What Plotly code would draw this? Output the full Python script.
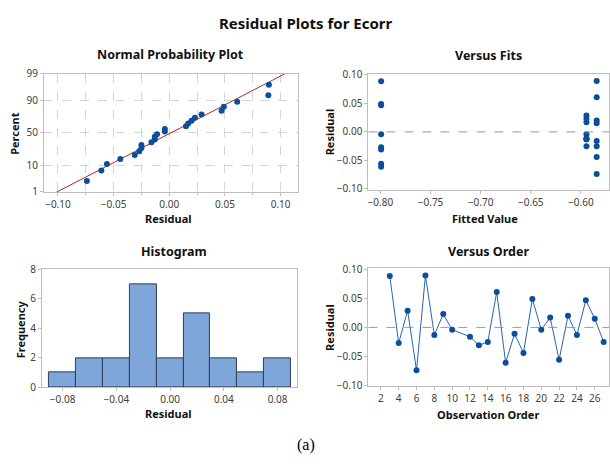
import plotly.graph_objects as go
from statistics import NormalDist, mean, stdev

# ---- data ----
obs_order = [3, 4, 5, 6, 7, 8, 9, 10, 12, 13, 14, 15, 16, 17, 18, 19, 20, 21, 22, 23, 24, 25, 26, 27]
residuals = [0.089, -0.027, 0.029, -0.074, 0.0895, -0.013, 0.023, -0.004, -0.016, -0.031, -0.025, 0.061,
             -0.061, -0.011, -0.044, 0.049, -0.004, 0.017, -0.056, 0.020, -0.013, 0.047, 0.015, -0.025]
fitted = [-0.7993, -0.7993, -0.5945, -0.5843, -0.5843, -0.5945, -0.5945, -0.7993, -0.5843, -0.7993, -0.5945, -0.5843,
          -0.7993, -0.5945, -0.5843, -0.7993, -0.5945, -0.5945, -0.7993, -0.5843, -0.5945, -0.7993, -0.5843, -0.5843]
pct_ticks = [1, 10, 50, 90, 99]

W, H = 610, 468
nd = NormalDist()

def px(x):
    return x / W

def py(y):
    return 1 - y / H

# normal probability plot data
n = len(residuals)
sorted_res = sorted(residuals)
z_pts = [nd.inv_cdf((i + 1 - 0.3) / (n + 0.4)) for i in range(n)]
mu, sd = mean(residuals), stdev(residuals)
z_lo, z_hi = nd.inv_cdf(0.01), nd.inv_cdf(0.99)
z_line = [z_lo - 0.3, z_hi + 0.3]
x_line = [mu + sd * z for z in z_line]

PT = "#0b4f9c"
FONT = "Noto Sans"
TICKC = "#404040"
FRAME = "#bdbdbd"

fig = go.Figure()
fig.add_trace(go.Scatter(x=x_line, y=z_line, mode="lines", line=dict(color="#b02a2a", width=1),
                         xaxis="x", yaxis="y", hoverinfo="skip"))
fig.add_trace(go.Scatter(x=sorted_res, y=z_pts, mode="markers", marker=dict(color=PT, size=6),
                         xaxis="x", yaxis="y"))
fig.add_trace(go.Scatter(x=fitted, y=residuals, mode="markers", marker=dict(color=PT, size=6),
                         xaxis="x2", yaxis="y2"))
fig.add_trace(go.Histogram(x=residuals, xbins=dict(start=-0.09, end=0.09, size=0.02),
                           marker=dict(color="#7ea6d8", line=dict(color="#2f3f58", width=1)),
                           xaxis="x3", yaxis="y3"))
fig.add_trace(go.Scatter(x=obs_order, y=residuals, mode="lines+markers",
                         line=dict(color="#2a64ad", width=1), marker=dict(color=PT, size=6),
                         xaxis="x4", yaxis="y4"))

def ax(domain, anchor, **kw):
    d = dict(domain=domain, anchor=anchor, showline=True, mirror=True, linecolor=FRAME, linewidth=1,
             ticks="outside", ticklen=3, tickcolor=FRAME, tickfont=dict(family=FONT, size=10, color=TICKC),
             showgrid=False, zeroline=False)
    d.update(kw)
    return d

grid = dict(showgrid=True, gridcolor="#d4d4d4", griddash="dash", gridwidth=1)

fig.update_layout(
    width=W, height=H, margin=dict(l=0, r=0, t=0, b=0), showlegend=False,
    plot_bgcolor="white", paper_bgcolor="white", bargap=0,
    xaxis=ax([px(43), px(297)], "y", range=[-0.1126, 0.1152], tickvals=[-0.10, -0.05, 0.0, 0.05, 0.10],
             tickformat=".2f",
             minor=dict(dtick=0.025, tick0=0, showgrid=True, gridcolor="#d4d4d4", griddash="dash",
                        ticks="outside", ticklen=2, tickcolor=FRAME),
             **grid),
    yaxis=ax([py(190), py(68)], "x", range=[z_lo, z_hi], tickvals=[nd.inv_cdf(p / 100) for p in pct_ticks],
             ticktext=[str(p) for p in pct_ticks], **grid),
    xaxis2=ax([px(368), px(609)], "y2", range=[-0.812, -0.572], tickvals=[-0.80, -0.75, -0.70, -0.65, -0.60],
              tickformat=".2f"),
    yaxis2=ax([py(188), py(68)], "x2", range=[-0.102, 0.102], tickvals=[-0.10, -0.05, 0.0, 0.05, 0.10],
              tickformat=".2f"),
    xaxis3=ax([px(41), px(296)], "y3", range=[-0.0954, 0.0941], tickvals=[-0.08, -0.04, 0.0, 0.04, 0.08],
              tickformat=".2f"),
    yaxis3=ax([py(392), py(270)], "x3", range=[0, 8], tickvals=[0, 2, 4, 6, 8]),
    xaxis4=ax([px(368), px(609)], "y4", range=[0.6, 27.6], tickvals=list(range(2, 27, 2))),
    yaxis4=ax([py(391), py(269)], "x4", range=[-0.102, 0.102], tickvals=[-0.10, -0.05, 0.0, 0.05, 0.10],
              tickformat=".2f"),
)

# zero reference lines
for xr, yr in [("x2", "y2"), ("x4", "y4")]:
    fig.add_shape(type="line", xref=f"{xr} domain", yref=yr, x0=0, x1=1, y0=0, y1=0,
                  line=dict(color="#9a9a9a", width=1, dash="dash"))

def ann(text, x, y, size, bold=True, angle=0, family=FONT, color="#111111"):
    t = f"<b>{text}</b>" if bold else text
    fig.add_annotation(text=t, x=px(x), y=py(y), xref="paper", yref="paper", showarrow=False,
                       textangle=angle, xanchor="center", yanchor="middle",
                       font=dict(family=family, size=size, color=color))

ann("Residual Plots for Ecorr", 305, 15, 15)
ann("Normal Probability Plot", 170, 48, 12.5)
ann("Versus Fits", 488, 49, 12.5)
ann("Histogram", 173, 252, 12.5)
ann("Versus Order", 488, 252, 12.5)
ann("Residual", 168, 217, 11)
ann("Fitted Value", 485, 217, 11)
ann("Residual", 168, 419, 11)
ann("Observation Order", 488, 420, 11)
ann("Percent", 14, 130, 11, angle=-90)
ann("Residual", 329, 128, 11, angle=-90)
ann("Frequency", 19, 332, 11, angle=-90)
ann("Residual", 329, 330, 11, angle=-90)
ann("(a)", 305, 451, 16, bold=False, family="Liberation Serif", color="#000000")

fig.write_html("out.html")
